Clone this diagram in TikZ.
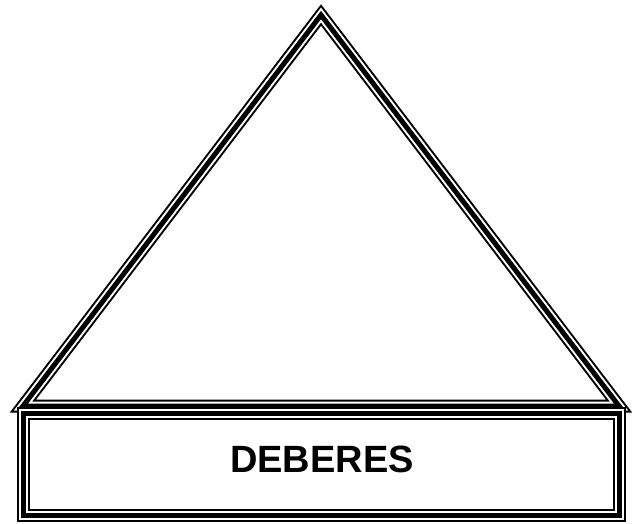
\documentclass[tikz,border=0pt]{standalone}
\usepackage{fontspec}
\setmainfont{Liberation Sans}
\usetikzlibrary{positioning}
\tikzset{
  tripleline/.style={draw=black,line width=13pt,line join=miter,
    postaction={draw=white,line width=9pt},
    postaction={draw=black,line width=5pt}},
}

\begin{document}
\begin{tikzpicture}[x=1pt,y=-1pt,font=\bfseries\fontsize{38}{40}\selectfont]
  \useasboundingbox (0,0) rectangle (641,524);

  % roof
  \draw[tripleline] (321,15) -- (619,406) -- (23,406) -- cycle;

  % base box with its label
  \draw[tripleline,fill=white] (23.5,413) rectangle (619,515);
  \node (deberes) at (322,459) {DEBERES};
\end{tikzpicture}
\end{document}
